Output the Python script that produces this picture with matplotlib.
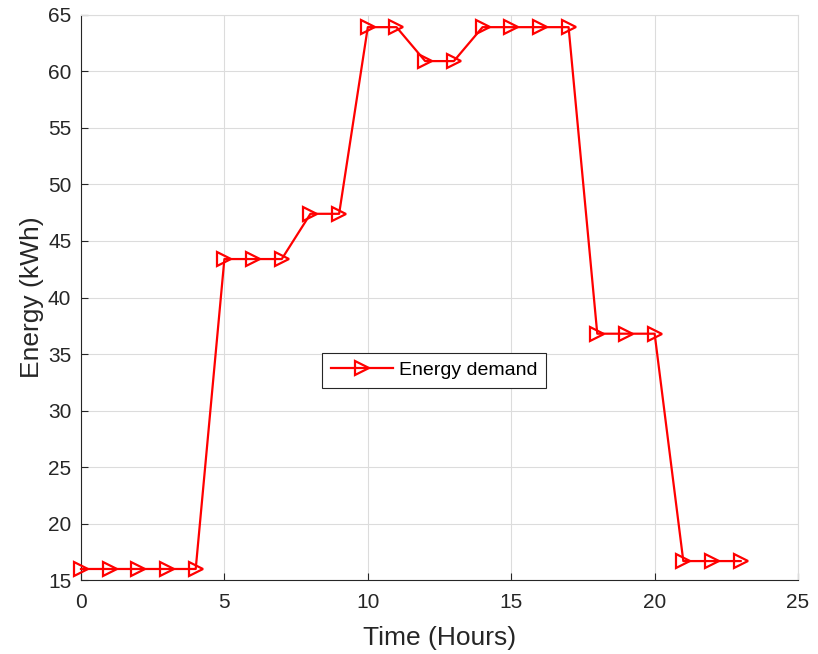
import matplotlib.pyplot as plt

plt.rcParams['font.family'] = ['Liberation Sans', 'DejaVu Sans']

hours = list(range(24))
energy = [16.0, 16.0, 16.0, 16.0, 16.0,
          43.4, 43.4, 43.4, 47.4, 47.4,
          63.9, 63.9, 60.9, 60.9, 63.9, 63.9, 63.9, 63.9,
          36.8, 36.8, 36.8,
          16.7, 16.7, 16.7]

fig = plt.figure(figsize=(8.18, 6.54), dpi=100)
ax = fig.add_axes([0.099, 0.1127, 0.8766, 0.8648])

ax.plot(hours, energy, color='red', lw=1.6, marker='>', ms=10,
        mfc='none', mew=1.6, label='Energy demand', clip_on=False, zorder=3)

ax.set_xlim(0, 25)
ax.set_ylim(15, 65)
ax.set_xticks(range(0, 26, 5))
ax.set_yticks(range(15, 66, 5))
ax.grid(True, color='#dcdcdc', lw=0.8)
ax.set_axisbelow(True)

ax.tick_params(direction='in', length=5, width=0.8, colors='#262626',
               labelsize=15, top=False, right=False)
ax.tick_params(axis='x', pad=9)
ax.tick_params(axis='y', pad=7)
for side in ['left', 'bottom']:
    ax.spines[side].set_color('#262626')
for side in ['top', 'right']:
    ax.spines[side].set_color('#dcdcdc')

ax.set_xlabel('Time (Hours)', fontsize=19, color='#262626', labelpad=10)
ax.set_ylabel('Energy (kWh)', fontsize=19, color='#262626', labelpad=3)

leg = ax.legend(loc='center left', bbox_to_anchor=(0.323, 0.371), fontsize=14,
                fancybox=False, edgecolor='#262626', framealpha=1,
                handlelength=3.2, handletextpad=0.3, borderpad=0.45)
leg.get_frame().set_linewidth(0.8)

fig.savefig('out.png', dpi=100)
